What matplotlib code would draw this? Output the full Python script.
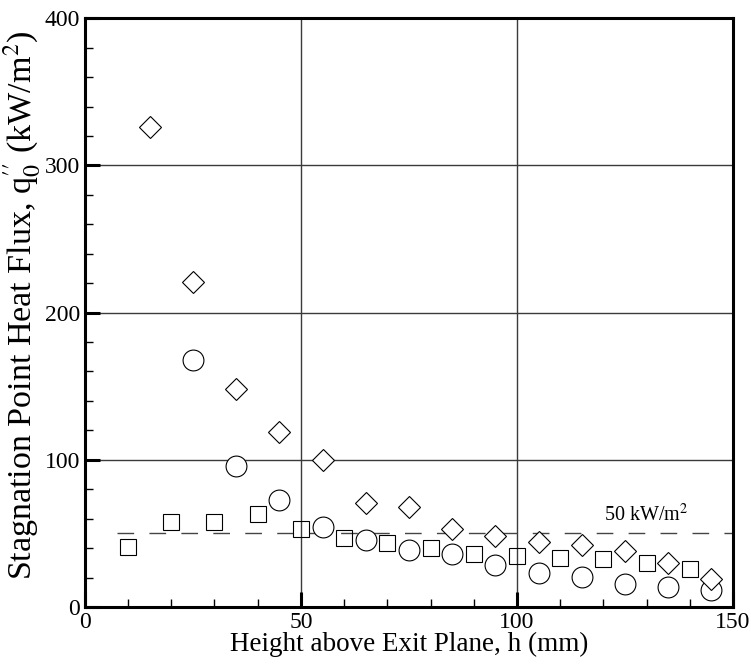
import numpy as np
import matplotlib.pyplot as plt
from matplotlib.ticker import MultipleLocator

plt.rcParams['font.family'] = ['Liberation Serif', 'DejaVu Serif']
plt.rcParams['mathtext.fontset'] = 'stix'

# Stagnation point heat flux data (kW/m^2) vs height above exit plane (mm)
h_square = [10, 20, 30, 40, 50, 60, 70, 80, 90, 100, 110, 120, 130, 140]
q_square = [41, 58, 57.7, 63, 53, 47, 43.4, 40, 36, 34.6, 33, 32.6, 30, 26]

h_circle = [25, 35, 45, 55, 65, 75, 85, 95, 105, 115, 125, 135, 145]
q_circle = [168, 96, 73, 54.3, 45.5, 38.7, 36, 28.5, 23, 20.5, 15.6, 13.6, 11.5]

h_diamond = [15, 25, 35, 45, 55, 65, 75, 85, 95, 105, 115, 125, 135, 145]
q_diamond = [326, 221, 148, 119, 100, 70.6, 68, 53, 48, 44, 42, 38, 30, 19]

ref_flux = 50

fig = plt.figure(figsize=(7.51, 6.66), dpi=100)
ax = fig.add_axes([0.113, 0.0886, 0.863, 0.884])

ax.set_xlim(0, 150)
ax.set_ylim(0, 400)
ax.xaxis.set_major_locator(MultipleLocator(50))
ax.xaxis.set_minor_locator(MultipleLocator(10))
ax.yaxis.set_major_locator(MultipleLocator(100))
ax.yaxis.set_minor_locator(MultipleLocator(20))
ax.grid(which='major', color='#3a3a3a', linewidth=1.0)
ax.set_axisbelow(True)

ax.tick_params(which='major', direction='in', length=11, width=2.2, labelsize=17)
ax.tick_params(which='minor', direction='in', length=6, width=1.0)
for sp in ax.spines.values():
    sp.set_linewidth(2.2)

# reference level
ax.axhline(ref_flux, xmin=0.049, xmax=1.0, color='#444444', linewidth=1.0,
           dashes=(12, 11), zorder=2)
ax.text(130, 55, r'50 kW/m$^2$', fontsize=14.5, ha='center', va='bottom')

ax.plot(h_square, q_square, 's', markersize=11.5, markerfacecolor='none',
        markeredgecolor='k', markeredgewidth=0.8, zorder=3)
ax.plot(h_circle, q_circle, 'o', markersize=15, markerfacecolor='white',
        markeredgecolor='k', markeredgewidth=0.8, zorder=4)
ax.plot(h_diamond, q_diamond, 'D', markersize=11, markerfacecolor='white',
        markeredgecolor='k', markeredgewidth=0.8, zorder=5)

ax.set_xlabel('Height above Exit Plane, h (mm)', fontsize=19.5, labelpad=-1)
ax.set_ylabel(r"Stagnation Point Heat Flux, q$_0^{\prime\prime}$ (kW/m$^2$)",
              fontsize=24.5)
ax.yaxis.set_label_coords(-0.064, 0.513)

fig.savefig('out.png', dpi=100)
